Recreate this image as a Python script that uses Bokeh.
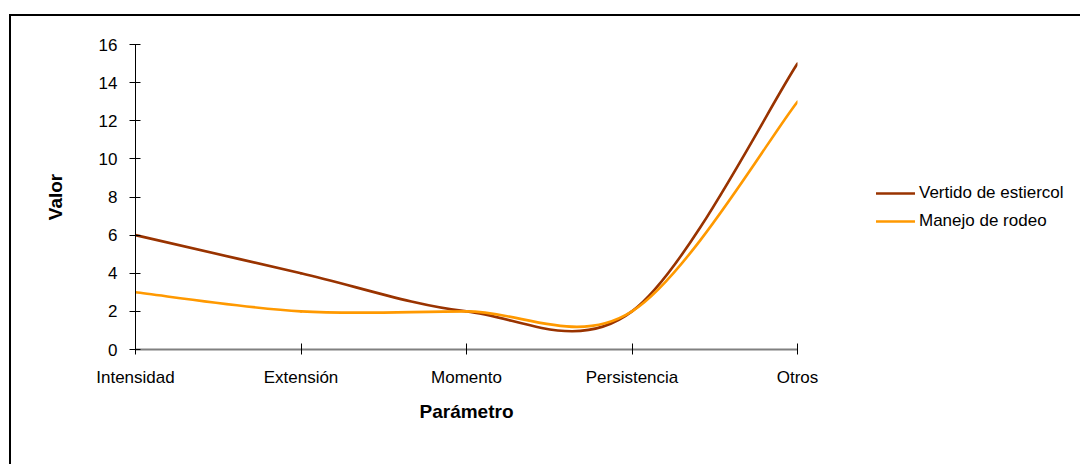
from bokeh.plotting import figure
from bokeh.models import FixedTicker, Legend, LegendItem, ColumnDataSource, Range1d
from bokeh.embed import file_html
from bokeh.resources import INLINE

categories = ["Intensidad", "Extensión", "Momento", "Persistencia", "Otros"]
vertido = [6, 4, 2, 2, 15]
manejo = [3, 2, 2, 2, 13]
series_names = ["Vertido de estiercol", "Manejo de rodeo"]
series_colors = ["#993300", "#FF9900"]
y_ticks = [0, 2, 4, 6, 8, 10, 12, 14, 16]

FONT = "Liberation Sans"


def smooth_source(ys):
    # Excel-style smoothed line: cubic Bezier segments through the data points
    xs = list(range(len(ys)))
    n = len(xs)
    d = dict(x0=[], y0=[], x1=[], y1=[], cx0=[], cy0=[], cx1=[], cy1=[])
    for i in range(n - 1):
        ip = max(i - 1, 0)
        inx = min(i + 2, n - 1)
        d["x0"].append(xs[i]); d["y0"].append(ys[i])
        d["x1"].append(xs[i + 1]); d["y1"].append(ys[i + 1])
        d["cx0"].append(xs[i] + (xs[i + 1] - xs[ip]) / 6)
        d["cy0"].append(ys[i] + (ys[i + 1] - ys[ip]) / 6)
        d["cx1"].append(xs[i + 1] - (xs[inx] - xs[i]) / 6)
        d["cy1"].append(ys[i + 1] - (ys[inx] - ys[i]) / 6)
    return ColumnDataSource(d)


p = figure(frame_width=662, frame_height=305, output_backend="svg", toolbar_location=None,
           x_range=Range1d(0, len(categories) - 1), y_range=Range1d(0, 16),
           min_border_left=124, min_border_right=280, min_border_top=28, min_border_bottom=115)
p.styles = {"border-top": "2px solid black", "border-left": "2px solid black",
            "border-right": "none", "border-bottom": "none",
            "margin-left": "9px", "margin-top": "14px"}
p.background_fill_color = "white"
p.border_fill_color = "white"
p.outline_line_color = None
p.xgrid.grid_line_color = None
p.ygrid.grid_line_color = None

renderers = []
for ys, color in zip([vertido, manejo], series_colors):
    r = p.bezier(x0="x0", y0="y0", x1="x1", y1="y1", cx0="cx0", cy0="cy0", cx1="cx1", cy1="cy1",
                 source=smooth_source(ys), line_color=color, line_width=2.6, line_cap="round")
    renderers.append(r)

# x axis
xa = p.xaxis[0]
xa.ticker = FixedTicker(ticks=list(range(len(categories))))
xa.major_label_overrides = {i: c for i, c in enumerate(categories)}
xa.axis_line_color = "#808080"
xa.axis_line_width = 2
xa.major_tick_line_color = "black"
xa.major_tick_in = 6
xa.major_tick_out = 5
xa.minor_tick_line_color = None
xa.major_label_text_font = FONT
xa.major_label_text_font_size = "17px"
xa.major_label_text_color = "black"
xa.major_label_standoff = 13
xa.axis_label = "Parámetro"
xa.axis_label_text_font = FONT
xa.axis_label_text_font_size = "19px"
xa.axis_label_text_font_style = "bold"
xa.axis_label_text_color = "black"
xa.axis_label_standoff = 11

# y axis
ya = p.yaxis[0]
ya.ticker = FixedTicker(ticks=y_ticks)
ya.axis_line_color = "black"
ya.axis_line_width = 1
ya.major_tick_line_color = "black"
ya.major_tick_in = 5
ya.major_tick_out = 6
ya.minor_tick_line_color = None
ya.major_label_text_font = FONT
ya.major_label_text_font_size = "17px"
ya.major_label_text_color = "black"
ya.major_label_standoff = 12
ya.axis_label = "Valor"
ya.axis_label_text_font = FONT
ya.axis_label_text_font_size = "19px"
ya.axis_label_text_font_style = "bold"
ya.axis_label_text_color = "black"
ya.axis_label_standoff = 30

legend = Legend(items=[LegendItem(label=n, renderers=[r]) for n, r in zip(series_names, renderers)],
                location=(79, 118), orientation="vertical",
                background_fill_alpha=0, border_line_color=None,
                padding=0, margin=0, spacing=8, glyph_width=39, glyph_height=20,
                label_height=20, label_standoff=4,
                label_text_font=FONT, label_text_font_size="17px", label_text_color="black")
p.add_layout(legend, "right")

open("out.html", "w").write(file_html(p, INLINE))
